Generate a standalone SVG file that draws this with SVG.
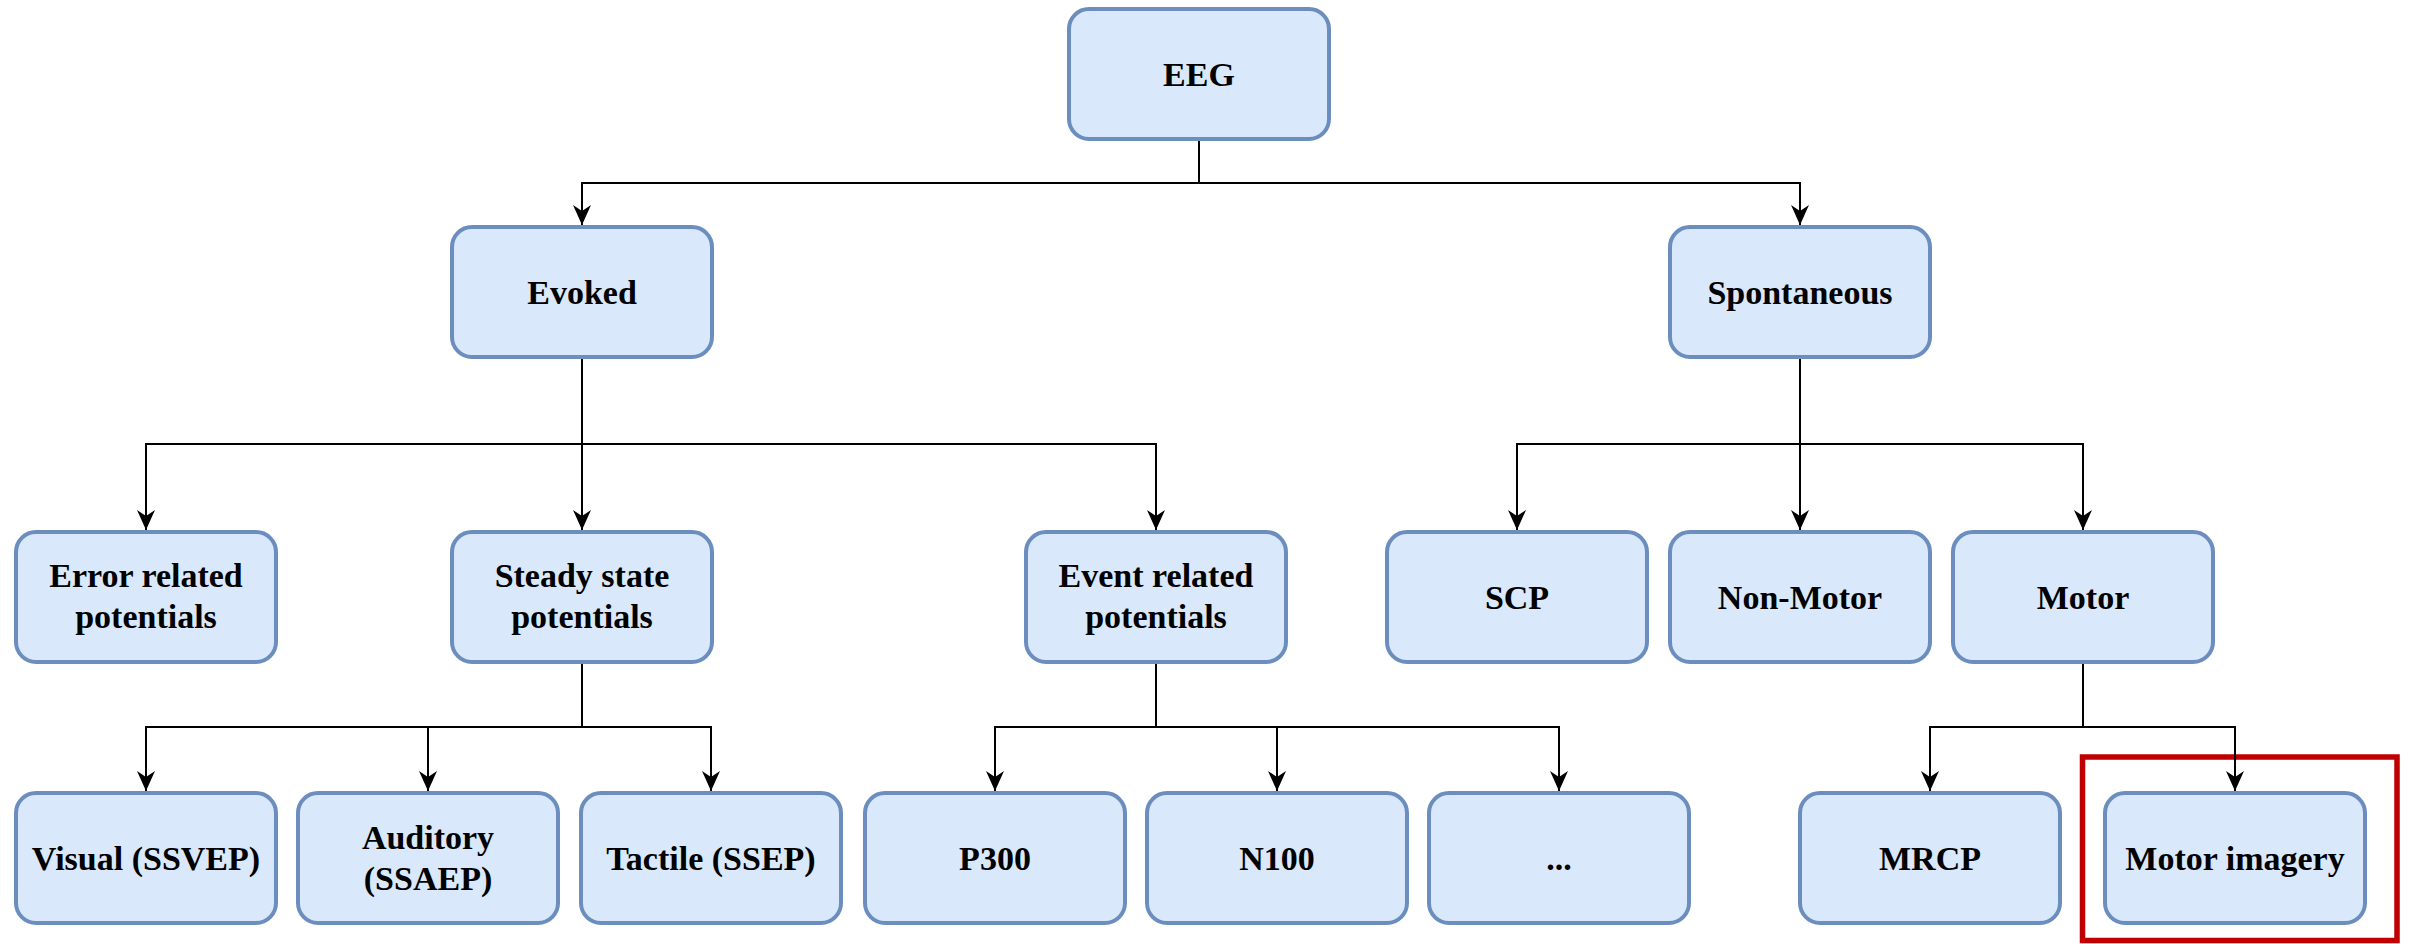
<svg xmlns="http://www.w3.org/2000/svg" width="2410" height="944" viewBox="0 0 2410 944">
<defs>
<style>
.node rect{fill:#dae8fc;stroke:#6c8ebf;stroke-width:4}
.node text{font-family:"Liberation Serif","Times New Roman",serif;font-weight:bold;font-size:34px;fill:#000;text-anchor:middle}
.conn path{fill:none;stroke:#000;stroke-width:2}
.hl{fill:none;stroke:#c00000;stroke-width:5.5}
</style>
<marker id="arr" markerUnits="userSpaceOnUse" markerWidth="24" markerHeight="24" viewBox="-22 -12 24 24" refX="0" refY="0" orient="auto">
<path d="M0,0 L-20,-9 L-14,0 L-20,9 Z" fill="#000" stroke="none"/>
</marker>
</defs>
<rect class="hl" x="2082.5" y="757" width="314.5" height="183.5"/>
<g id="connectors" class="conn">
<path d="M1199,139 V183 H582 V225" marker-end="url(#arr)"/>
<path d="M1199,183 H1800 V225" marker-end="url(#arr)"/>
<path d="M582,357 V444 H146 V530" marker-end="url(#arr)"/>
<path d="M582,444 V530" marker-end="url(#arr)"/>
<path d="M582,444 H1156 V530" marker-end="url(#arr)"/>
<path d="M1800,357 V444 H1517 V530" marker-end="url(#arr)"/>
<path d="M1800,444 V530" marker-end="url(#arr)"/>
<path d="M1800,444 H2083 V530" marker-end="url(#arr)"/>
<path d="M582,662 V727 H146 V791" marker-end="url(#arr)"/>
<path d="M582,727 H428 V791" marker-end="url(#arr)"/>
<path d="M582,727 H711 V791" marker-end="url(#arr)"/>
<path d="M1156,662 V727 H995 V791" marker-end="url(#arr)"/>
<path d="M1156,727 H1277 V791" marker-end="url(#arr)"/>
<path d="M1156,727 H1559 V791" marker-end="url(#arr)"/>
<path d="M2083,662 V727 H1930 V791" marker-end="url(#arr)"/>
<path d="M2083,727 H2235 V791" marker-end="url(#arr)"/>
</g>
<g id="eeg" class="node"><rect x="1069" y="9" width="260" height="130" rx="20"/><text x="1199" y="86">EEG</text></g>
<g id="evoked" class="node"><rect x="452" y="227" width="260" height="130" rx="20"/><text x="582" y="304">Evoked</text></g>
<g id="spontaneous" class="node"><rect x="1670" y="227" width="260" height="130" rx="20"/><text x="1800" y="304">Spontaneous</text></g>
<g id="error" class="node"><rect x="16" y="532" width="260" height="130" rx="20"/><text x="146" y="587">Error related</text><text x="146" y="628">potentials</text></g>
<g id="steady" class="node"><rect x="452" y="532" width="260" height="130" rx="20"/><text x="582" y="587">Steady state</text><text x="582" y="628">potentials</text></g>
<g id="event" class="node"><rect x="1026" y="532" width="260" height="130" rx="20"/><text x="1156" y="587">Event related</text><text x="1156" y="628">potentials</text></g>
<g id="scp" class="node"><rect x="1387" y="532" width="260" height="130" rx="20"/><text x="1517" y="609">SCP</text></g>
<g id="nonmotor" class="node"><rect x="1670" y="532" width="260" height="130" rx="20"/><text x="1800" y="609">Non-Motor</text></g>
<g id="motor" class="node"><rect x="1953" y="532" width="260" height="130" rx="20"/><text x="2083" y="609">Motor</text></g>
<g id="visual" class="node"><rect x="16" y="793" width="260" height="130" rx="20"/><text x="146" y="870">Visual (SSVEP)</text></g>
<g id="auditory" class="node"><rect x="298" y="793" width="260" height="130" rx="20"/><text x="428" y="849">Auditory</text><text x="428" y="890">(SSAEP)</text></g>
<g id="tactile" class="node"><rect x="581" y="793" width="260" height="130" rx="20"/><text x="711" y="870">Tactile (SSEP)</text></g>
<g id="p300" class="node"><rect x="865" y="793" width="260" height="130" rx="20"/><text x="995" y="870">P300</text></g>
<g id="n100" class="node"><rect x="1147" y="793" width="260" height="130" rx="20"/><text x="1277" y="870">N100</text></g>
<g id="more" class="node"><rect x="1429" y="793" width="260" height="130" rx="20"/><text x="1559" y="870">...</text></g>
<g id="mrcp" class="node"><rect x="1800" y="793" width="260" height="130" rx="20"/><text x="1930" y="870">MRCP</text></g>
<g id="motorimagery" class="node"><rect x="2105" y="793" width="260" height="130" rx="20"/><text x="2235" y="870">Motor imagery</text></g>
</svg>
